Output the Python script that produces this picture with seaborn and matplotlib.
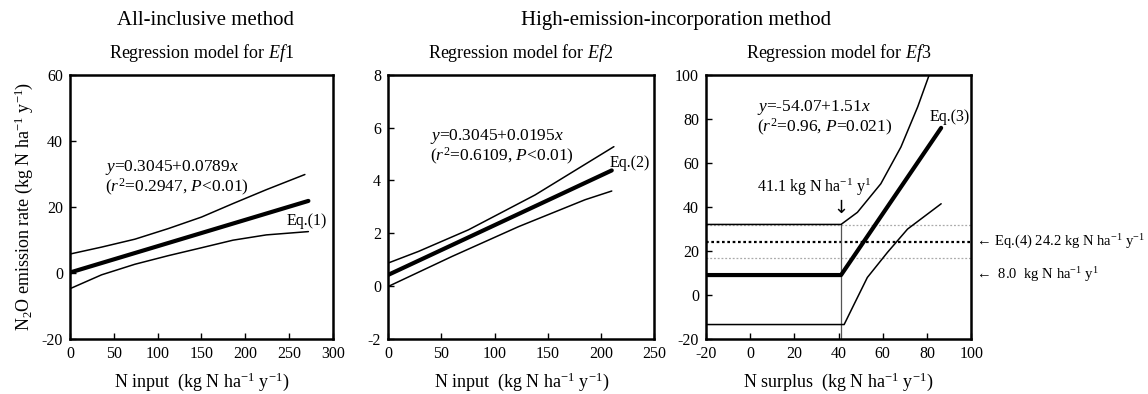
import matplotlib
matplotlib.use("Agg")
import matplotlib.pyplot as plt
import seaborn as sns

# ---------------- data ----------------
# Panel 1: Ef1 regression (N input)
p1_mean_x = [0, 272]
p1_mean_y = [0.1, 21.8]
p1_up_x = [0, 36, 74, 112, 150, 186, 224, 268]
p1_up_y = [5.7, 7.8, 10.2, 13.4, 16.9, 21.0, 25.2, 29.8]
p1_lo_x = [0, 36, 74, 112, 150, 186, 224, 272]
p1_lo_y = [-4.8, -0.6, 2.6, 5.2, 7.6, 9.9, 11.5, 12.5]

# Panel 2: Ef2 regression (N input)
p2_mean_x = [0, 210]
p2_mean_y = [0.42, 4.38]
p2_up_x = [0, 28.5, 75.5, 138, 212]
p2_up_y = [0.87, 1.31, 2.13, 3.45, 5.28]
p2_lo_x = [0, 60, 122.5, 185, 210]
p2_lo_y = [-0.02, 1.12, 2.25, 3.27, 3.6]

# Panel 3: Ef3 regression (N surplus)
p3_mean_x = [-20, 41.1, 86.4]
p3_mean_y = [9.0, 9.0, 75.9]
p3_up_x = [-20, 41.1, 48.5, 59.1, 68.2, 75.8, 81]
p3_up_y = [32.0, 32.0, 37.5, 50.5, 67.2, 85.5, 100]
p3_lo_x = [-20, 42.5, 47, 53, 62.1, 71.2, 86.4]
p3_lo_y = [-13.5, -13.5, -4.3, 7.9, 19.3, 29.9, 41.4]
p3_break_x = 41.1
p3_eq4_level = 24.2
p3_ci_levels = [31.8, 16.8]

xlims = [(0, 300), (0, 250), (-20, 100)]
ylims = [(-20, 60), (-2, 8), (-20, 100)]
xticks = [[0, 50, 100, 150, 200, 250, 300], [0, 50, 100, 150, 200, 250],
          [-20, 0, 20, 40, 60, 80, 100]]
yticks = [[-20, 0, 20, 40, 60], [-2, 0, 2, 4, 6, 8], [-20, 0, 20, 40, 60, 80, 100]]

# ---------------- style ----------------
sns.set_style("ticks")
plt.rcParams['font.family'] = ['Liberation Serif', 'DejaVu Serif']
plt.rcParams['mathtext.fontset'] = 'custom'
plt.rcParams['mathtext.rm'] = 'Liberation Serif'
plt.rcParams['mathtext.it'] = 'Liberation Serif:italic'
plt.rcParams['mathtext.bf'] = 'Liberation Serif:bold'
plt.rcParams['axes.unicode_minus'] = False
plt.rcParams['xtick.direction'] = 'in'
plt.rcParams['ytick.direction'] = 'in'
for k in ['text.color', 'axes.labelcolor', 'xtick.color', 'ytick.color',
          'axes.edgecolor']:
    plt.rcParams[k] = 'black'

fig = plt.figure(figsize=(11.48, 3.94), dpi=100)
axes = [fig.add_axes([0.061, 0.140, 0.229, 0.670]),
        fig.add_axes([0.338, 0.140, 0.232, 0.670]),
        fig.add_axes([0.615, 0.140, 0.231, 0.670])]

def draw(ax, mx, my, ux, uy, lx, ly):
    sns.lineplot(x=ux, y=uy, ax=ax, color='black', lw=1.1, sort=False)
    sns.lineplot(x=lx, y=ly, ax=ax, color='black', lw=1.1, sort=False)
    sns.lineplot(x=mx, y=my, ax=ax, color='black', lw=3.0, sort=False)

draw(axes[0], p1_mean_x, p1_mean_y, p1_up_x, p1_up_y, p1_lo_x, p1_lo_y)
draw(axes[1], p2_mean_x, p2_mean_y, p2_up_x, p2_up_y, p2_lo_x, p2_lo_y)

ax3 = axes[2]
for lvl in p3_ci_levels:
    ax3.axhline(lvl, color='#aaaaaa', lw=0.9, ls=(0, (1.5, 1.5)))
ax3.axhline(p3_eq4_level, color='black', lw=1.6, ls=(0, (1.2, 1.2)))
ax3.plot([p3_break_x, p3_break_x], [-20, p3_up_y[1]], color='#555555', lw=0.9)
draw(ax3, p3_mean_x, p3_mean_y, p3_up_x, p3_up_y, p3_lo_x, p3_lo_y)

sub = ["Regression model for $\\it{Ef}$1", "Regression model for $\\it{Ef}$2",
       "Regression model for $\\it{Ef}$3"]
xl = ["N input  (kg N ha$^{\\mathrm{-1}}$ y$^{\\mathrm{-1}}$)",
      "N input  (kg N ha$^{\\mathrm{-1}}$ y$^{\\mathrm{-1}}$)",
      "N surplus  (kg N ha$^{\\mathrm{-1}}$ y$^{\\mathrm{-1}}$)"]

for i, ax in enumerate(axes):
    ax.set_xlim(*xlims[i])
    ax.set_ylim(*ylims[i])
    ax.set_xticks(xticks[i])
    ax.set_yticks(yticks[i])
    ax.tick_params(labelsize=11.5, length=4, width=1, pad=5)
    for s in ax.spines.values():
        s.set_linewidth(1.8)
        s.set_visible(True)
        s.set_color('black')
    ax.set_title(sub[i], fontsize=13, pad=12)
    ax.set_xlabel(xl[i], fontsize=13, labelpad=6)
    ax.set_ylabel("")

axes[0].set_ylabel("N$_2$O emission rate (kg N ha$^{\\mathrm{-1}}$ y$^{\\mathrm{-1}}$)",
                   fontsize=13, labelpad=5)

# annotations
fs = 12.5
a = axes[0]
a.text(40, 32.0, "$\\it{y}$=0.3045+0.0789$\\it{x}$", fontsize=fs, va='center')
a.text(40, 26.0, "($\\it{r}^{2}$=0.2947, $\\it{P}$<0.01)", fontsize=fs, va='center')
a.text(247, 15.8, "Eq.(1)", fontsize=11.5, va='center')

a = axes[1]
a.text(39.5, 5.68, "$\\it{y}$=0.3045+0.0195$\\it{x}$", fontsize=fs, va='center')
a.text(39.5, 4.9, "($\\it{r}^{2}$=0.6109, $\\it{P}$<0.01)", fontsize=fs, va='center')
a.text(208, 4.67, "Eq.(2)", fontsize=11.5, va='center')

a = axes[2]
a.text(3.2, 85.0, "$\\it{y}$=-54.07+1.51$\\it{x}$", fontsize=fs, va='center')
a.text(3.2, 76.0, "($\\it{r}^{2}$=0.96, $\\it{P}$=0.021)", fontsize=fs, va='center')
a.text(81, 80.7, "Eq.(3)", fontsize=11.5, va='center')
a.text(3.2, 48.8, "41.1 kg N ha$^{\\mathrm{-1}}$ y$^{\\mathrm{1}}$", fontsize=11.5, va='center')
a.text(p3_break_x, 39.6, "\u2193", fontsize=13, ha='center', va='center',
       family=['DejaVu Sans'])
a.text(102.3, p3_eq4_level, "\u2190 Eq.(4) 24.2 kg N ha$^{\\mathrm{-1}}$ y$^{\\mathrm{-1}}$",
       fontsize=10.5, va='center', clip_on=False, family=['Liberation Serif', 'DejaVu Sans'])
a.text(102.3, p3_mean_y[0], "\u2190  8.0  kg N ha$^{\\mathrm{-1}}$ y$^{\\mathrm{1}}$",
       fontsize=10.5, va='center', clip_on=False, family=['Liberation Serif', 'DejaVu Sans'])

fig.text(0.179, 0.948, "All-inclusive method", fontsize=15, ha='center', va='center')
fig.text(0.589, 0.948, "High-emission-incorporation method", fontsize=15,
         ha='center', va='center')

fig.savefig("out.png", dpi=100)
